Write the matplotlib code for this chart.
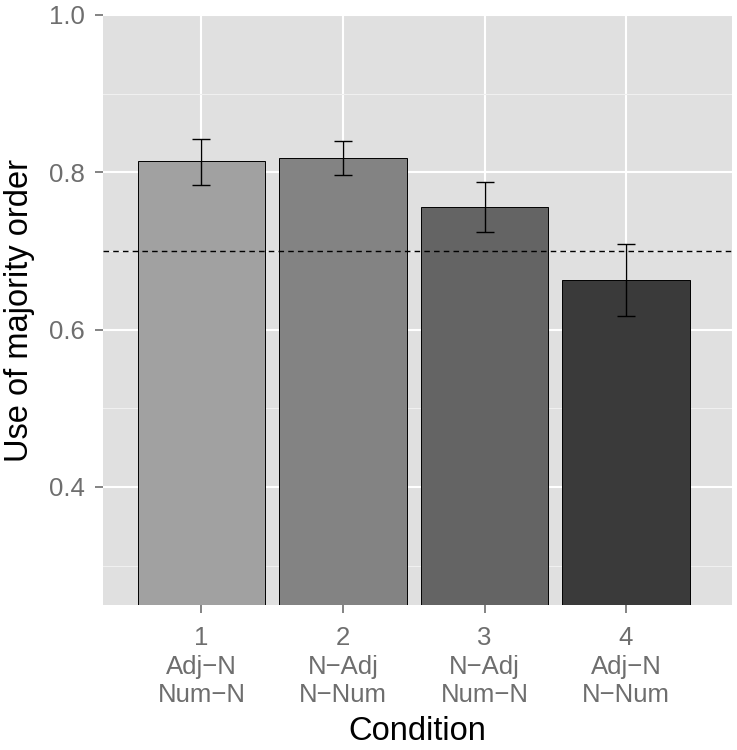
import matplotlib.pyplot as plt
import numpy as np

# values
conditions = ["1", "2", "3", "4"]
orders_adj = ["Adj\u2212N", "N\u2212Adj", "N\u2212Adj", "Adj\u2212N"]
orders_num = ["Num\u2212N", "N\u2212Num", "Num\u2212N", "N\u2212Num"]
means = [0.814, 0.818, 0.756, 0.6635]
err_low = [0.784, 0.797, 0.724, 0.618]
err_high = [0.843, 0.840, 0.788, 0.709]
baseline = 0.70
fills = ["#a1a1a1", "#838383", "#646464", "#3a3a3a"]

plt.rcParams['font.family'] = ['Liberation Sans', 'DejaVu Sans']

fig = plt.figure(figsize=(7.37, 7.5), dpi=100)
ax = fig.add_axes([103 / 737, (750 - 605) / 750, (732 - 103) / 737, (605 - 15) / 750])

x = np.arange(1, len(means) + 1)
ax.set_facecolor("#e0e0e0")
for s in ax.spines.values():
    s.set_visible(False)

ax.set_xlim(0.304, 4.749)
ax.set_ylim(0.25, 1.0)

# grid
ax.set_yticks([0.4, 0.6, 0.8, 1.0])
ax.set_yticks([0.3, 0.5, 0.7, 0.9], minor=True)
ax.set_xticks(x)
ax.grid(which="major", color="white", linewidth=1.5)
ax.grid(which="minor", axis="y", color="#f0f0f0", linewidth=0.8)
ax.set_axisbelow(True)

ax.bar(x, means, width=0.9, bottom=0, color=fills, edgecolor="black", linewidth=0.7, zorder=2)
yerr = [np.array(means) - np.array(err_low), np.array(err_high) - np.array(means)]
ax.errorbar(x, means, yerr=yerr, fmt="none", ecolor="black", elinewidth=1.0,
            capsize=6.5, capthick=1.0, zorder=3)
ax.axhline(baseline, color="black", linestyle=(0, (4, 3)), linewidth=1.0, zorder=4)

ax.set_xticklabels([f"{c}\n{a}\n{n}" for c, a, n in zip(conditions, orders_adj, orders_num)],
                   linespacing=1.25)
ax.set_yticklabels([f"{v:.1f}" for v in [0.4, 0.6, 0.8, 1.0]])
ax.tick_params(which="major", length=6, width=1.2, color="#6e6e6e", labelcolor="#6e6e6e",
               labelsize=18.5)
ax.tick_params(axis="x", pad=9)
ax.tick_params(axis="y", pad=7)
ax.tick_params(which="minor", length=0)

ax.set_xlabel("Condition", fontsize=23.5, labelpad=6)
ax.set_ylabel("Use of majority order", fontsize=23.5, labelpad=10)

plt.savefig("out.png", dpi=100)
